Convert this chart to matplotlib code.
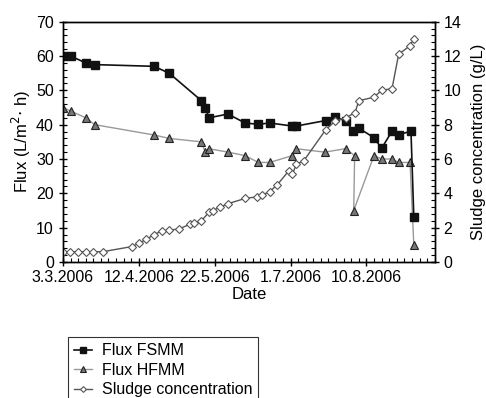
import matplotlib
matplotlib.use("Agg")
import matplotlib.pyplot as plt
from matplotlib.ticker import MultipleLocator

plt.rcParams['font.family'] = ['Liberation Sans', 'DejaVu Sans']

# Days since 3.3.2006
fsmm_days = [0, 4, 12, 16.8, 48, 56, 73, 75, 77, 87, 96, 103, 109, 121, 123,
             138.5, 143.3, 149, 153, 156, 164, 168, 173.5, 177, 183.5, 185]
fsmm_flux = [60, 60, 58, 57.5, 57, 55, 47, 45, 42, 43.1, 40.5, 40.1, 40.5, 39.6, 39.6,
             41.2, 42.1, 41.2, 38.2, 39.0, 36.2, 33.1, 38.1, 37.1, 38.1, 13.0]

hfmm_days = [0, 4, 12, 16.8, 48, 56, 73, 75, 77, 87, 96, 103, 109, 121, 123,
             138, 149, 153.8, 153.3, 164, 168, 173.5, 177, 183, 185]
hfmm_flux = [45, 44, 42, 40, 37, 36, 35, 32, 33, 32, 31, 29, 29, 31, 33,
             32, 33, 31, 15, 31, 30, 30, 29, 29, 5]

sludge_days = [0, 3.7, 7.9, 12, 16, 21, 36.4, 40, 44, 48, 52, 56, 61, 67, 69, 73,
               77, 79, 83, 87, 96, 102.5, 105, 109, 113, 119, 121, 123, 127,
               138.5, 143.4, 149, 154, 156, 164, 168, 173.5, 177, 183, 185]
sludge_conc = [0.6, 0.6, 0.6, 0.6, 0.6, 0.6, 0.9, 1.09, 1.32, 1.6, 1.8, 1.86, 1.92, 2.2, 2.3, 2.4,
               2.9, 3.0, 3.2, 3.4, 3.7, 3.8, 3.9, 4.1, 4.5, 5.3, 5.1, 5.7, 5.9,
               7.7, 8.2, 8.4, 8.7, 9.4, 9.6, 10.0, 10.1, 12.1, 12.6, 13.0]

tick_days = [0, 40, 80, 120, 160]
tick_labels = ['3.3.2006', '12.4.2006', '22.5.2006', '1.7.2006', '10.8.2006']

fig = plt.figure(figsize=(4.86, 3.98), dpi=100)
ax = fig.add_axes([0.1296, 0.3417, 0.7648, 0.6038])
ax2 = ax.twinx()

l1, = ax.plot(fsmm_days, fsmm_flux, color='#111111', lw=1.2, marker='s', ms=6,
              mfc='#111111', mec='#111111', label='Flux FSMM', zorder=3)
l2, = ax.plot(hfmm_days, hfmm_flux, color='#999999', lw=1.0, marker='^', ms=5.5,
              mfc='#777777', mec='#222222', mew=0.8, label='Flux HFMM', zorder=2)
l3, = ax2.plot(sludge_days, sludge_conc, color='#555555', lw=1.0, marker='D', ms=4.2,
               mfc='white', mec='#555555', mew=0.8, label='Sludge concentration')

ax.set_xlim(0, 196)
ax.set_ylim(0, 70)
ax2.set_ylim(0, 14)
ax.set_xticks(tick_days)
ax.set_xticklabels(tick_labels)
ax.xaxis.set_minor_locator(MultipleLocator(4))
ax.yaxis.set_major_locator(MultipleLocator(10))
ax.yaxis.set_minor_locator(MultipleLocator(2))
ax2.yaxis.set_major_locator(MultipleLocator(2))
ax2.yaxis.set_minor_locator(MultipleLocator(0.4))

for a in (ax, ax2):
    a.tick_params(which='major', direction='inout', length=6, width=1, labelsize=11.5)
    a.tick_params(which='minor', direction='in', length=3, width=0.8)
    for s in a.spines.values():
        s.set_linewidth(1.0)
ax.tick_params(axis='x', which='major', pad=3)

ax.set_xlabel('Date', fontsize=12, labelpad=1)
ax.set_ylabel('Flux (L/m$^2$$\\cdot$ h)', fontsize=12, labelpad=2)
ax2.set_ylabel('Sludge concentration (g/L)', fontsize=12, labelpad=7)

leg = fig.legend(handles=[l1, l2, l3], loc='upper left',
                 bbox_to_anchor=(0.14, 0.1533), fontsize=11.5, frameon=True,
                 fancybox=False, edgecolor='black', handlelength=1.1,
                 borderpad=0.4, labelspacing=0.28, handletextpad=0.6,
                 borderaxespad=0, markerscale=0.7)
leg.get_frame().set_linewidth(0.8)

fig.savefig('out.png', dpi=100)
